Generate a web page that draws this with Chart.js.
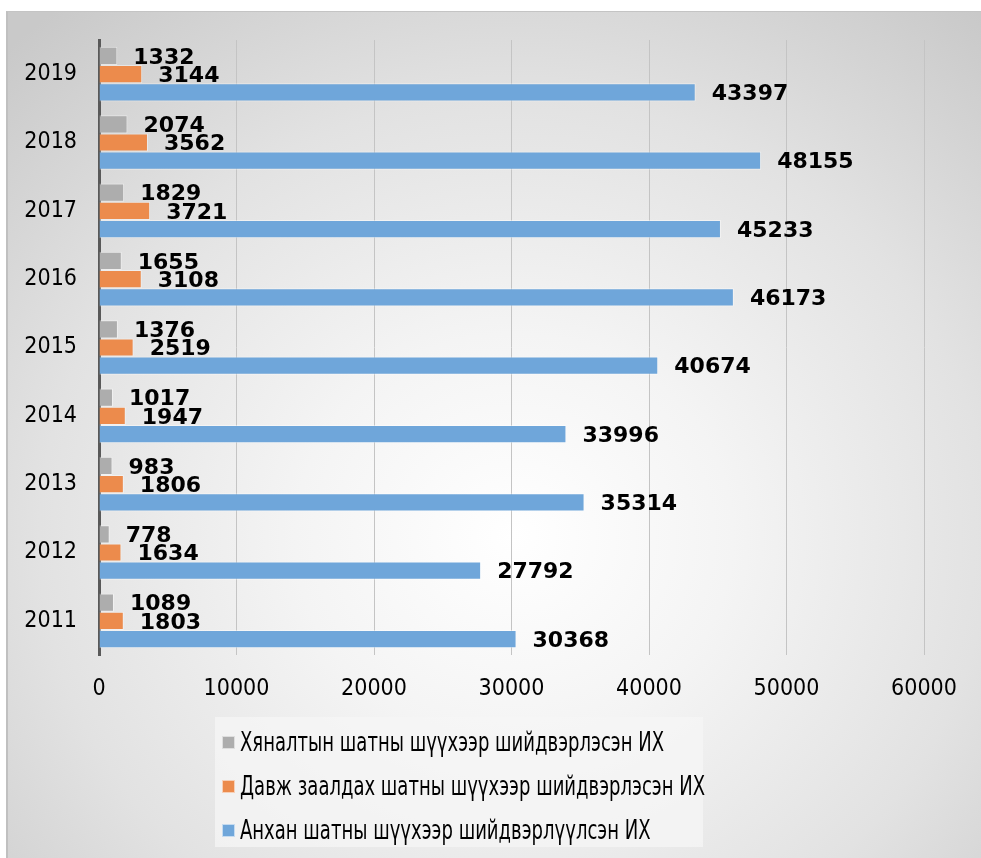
<!DOCTYPE html>
<html>
<head>
<meta charset="utf-8">
<script src="https://cdn.jsdelivr.net/npm/chart.js@4.4.1/dist/chart.umd.min.js"></script>
<style>
  html, body { margin:0; padding:0; background:#ffffff; width:981px; height:858px; overflow:hidden; }
  #frame { position:absolute; left:6px; top:11px; width:975px; height:847px;
    border-top:1px solid #c4c4c4; border-left:2px solid #c0c0c0; box-sizing:border-box;
    background: radial-gradient(ellipse 75% 80% at 52% 62%, #ffffff 0%, #f4f4f4 30%, #e2e2e2 65%, #c9c9c9 100%); }
  #c { position:absolute; left:0; top:0; }
  #legend { position:absolute; left:215px; top:717px; width:488px; height:130px;
    background:rgba(245,245,245,0.75); box-sizing:border-box; padding-top:3px;
    font-family:"DejaVu Sans Condensed","Liberation Sans",sans-serif; font-size:26px; color:#000; }
  #legend .item { height:44px; display:flex; align-items:center; padding-left:7px; white-space:nowrap; }
  #legend .box { flex:none; width:11px; height:11px; margin-right:5px; border:1px solid rgba(255,255,255,0.6); }
  #legend .txt { display:inline-block; transform-origin:left center; }
</style>
</head>
<body>
<div id="frame"></div>
<canvas id="c" width="981" height="858"></canvas>
<div id="legend"></div>
<script>
const years = ['2019','2018','2017','2016','2015','2014','2013','2012','2011'];
const seriesNames = [
  'Хяналтын шатны шүүхээр шийдвэрлэсэн ИХ',
  'Давж заалдах шатны шүүхээр шийдвэрлэсэн ИХ',
  'Анхан шатны шүүхээр шийдвэрлүүлсэн ИХ'
];
const supervisory = [1332, 2074, 1829, 1655, 1376, 1017, 983, 778, 1089];
const appeal      = [3144, 3562, 3721, 3108, 2519, 1947, 1806, 1634, 1803];
const firstInst   = [43397, 48155, 45233, 46173, 40674, 33996, 35314, 27792, 30368];
const xTicks = [0, 10000, 20000, 30000, 40000, 50000, 60000];
const colors = ['#adadad', '#ec8b4c', '#6fa6da'];

const labelPlugin = {
  id: 'valueLabels',
  afterDatasetsDraw(chart) {
    const ctx = chart.ctx;
    ctx.save();
    ctx.font = 'bold 22px "DejaVu Sans", Verdana, sans-serif';
    ctx.fillStyle = '#000';
    ctx.textAlign = 'left';
    ctx.textBaseline = 'middle';
    chart.data.datasets.forEach((ds, di) => {
      const meta = chart.getDatasetMeta(di);
      meta.data.forEach((bar, i) => {
        ctx.fillText(String(ds.data[i]), bar.x + 16, bar.y + 2);
      });
    });
    ctx.restore();
  }
};

const tickFont = { family: '"DejaVu Sans Condensed","Liberation Sans",sans-serif', size: 23 };

const chart = new Chart(document.getElementById('c'), {
  type: 'bar',
  data: {
    labels: years,
    datasets: [supervisory, appeal, firstInst].map((d, i) => ({
      label: seriesNames[i],
      data: d,
      backgroundColor: colors[i],
      borderColor: 'rgba(255,255,255,0.45)',
      borderWidth: 1,
      categoryPercentage: 0.8,
      barPercentage: 1.0
    }))
  },
  options: {
    indexAxis: 'y',
    responsive: false,
    animation: false,
    devicePixelRatio: 1,
    layout: { padding: { top: 40, right: 57, bottom: 138, left: 0 } },
    plugins: { legend: { display: false }, tooltip: { enabled: false } },
    scales: {
      x: {
        min: 0, max: 60000,
        afterBuildTicks(scale) { scale.ticks = xTicks.map(v => ({ value: v })); },
        afterFit(scale) { scale.height = 65; },
        grid: { color: '#c4c4c4', lineWidth: 1, drawTicks: false },
        border: { display: false },
        ticks: { font: tickFont, color: '#000', padding: 20, callback: v => String(v), maxRotation: 0 }
      },
      y: {
        afterFit(scale) { scale.width = 99; },
        grid: { display: false, drawTicks: false },
        border: { display: true, color: '#595959', width: 3 },
        ticks: { font: tickFont, color: '#000', padding: 22 }
      }
    }
  },
  plugins: [labelPlugin]
});

// HTML legend built from the chart's datasets
const legendEl = document.getElementById('legend');
const txts = [];
chart.data.datasets.forEach(ds => {
  const item = document.createElement('div');
  item.className = 'item';
  const box = document.createElement('span');
  box.className = 'box';
  box.style.background = ds.backgroundColor;
  const txt = document.createElement('span');
  txt.className = 'txt';
  txt.textContent = ds.label;
  item.appendChild(box); item.appendChild(txt);
  legendEl.appendChild(item);
  txts.push(txt);
});
const sx = 424 / txts[0].offsetWidth;
txts.forEach(t => { t.style.transform = 'scaleX(' + sx + ')'; });
</script>
</body>
</html>
